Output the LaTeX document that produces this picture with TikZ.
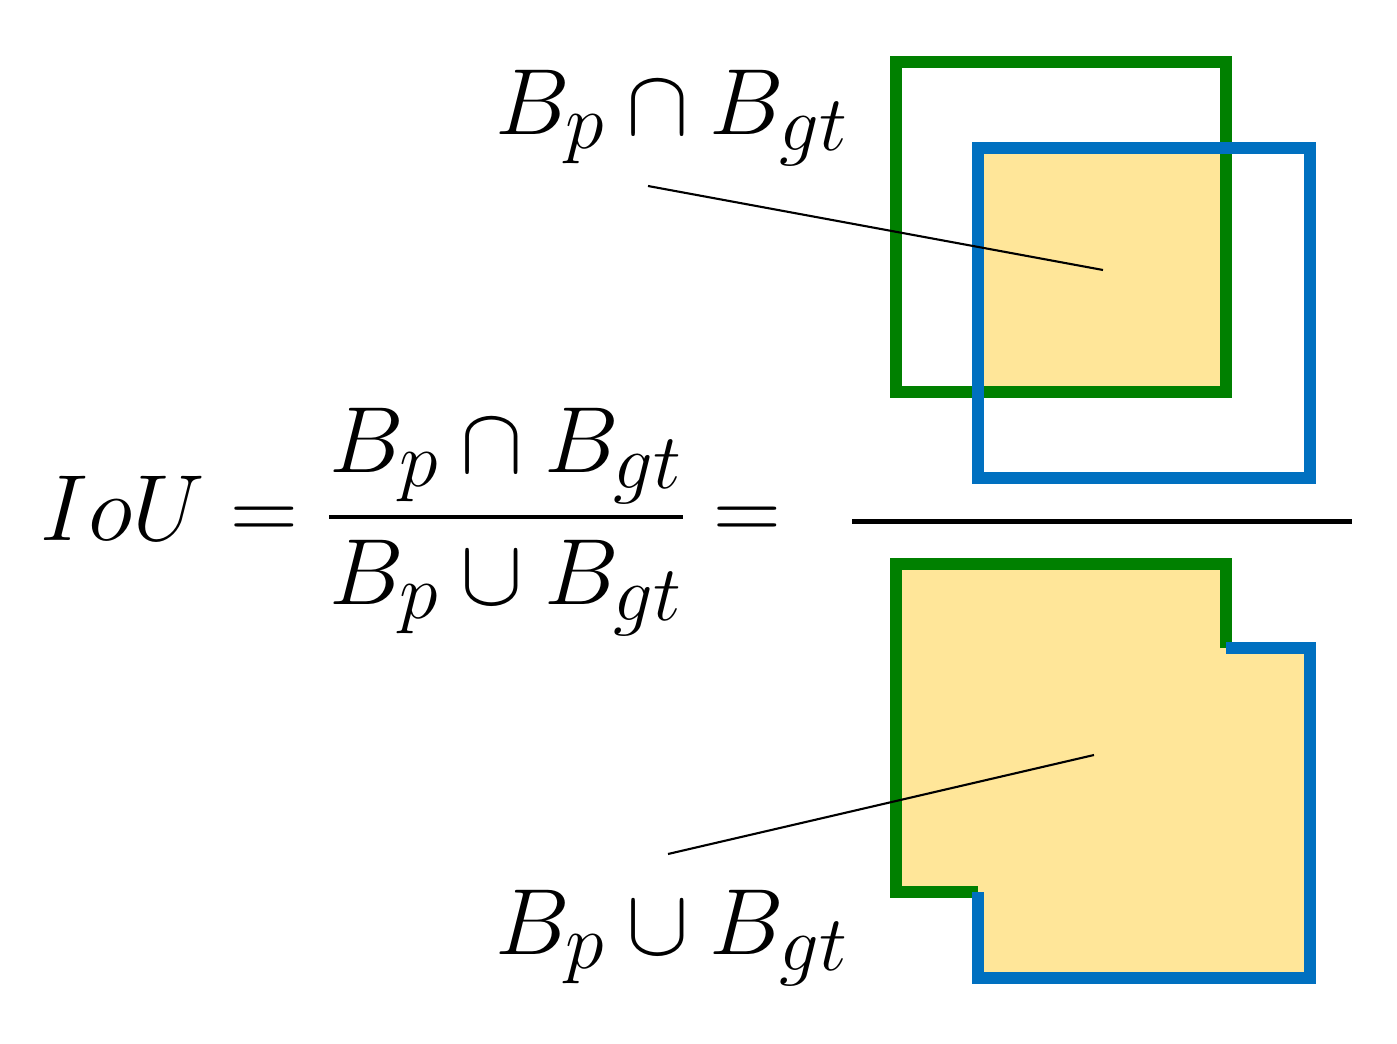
\documentclass[tikz,border=0pt]{standalone}
\usepackage{amsmath,amssymb}
\usepackage{graphicx}
\usepackage{tikz}
\usetikzlibrary{positioning}
\definecolor{boxgreen}{RGB}{0,128,0}
\definecolor{boxblue}{RGB}{0,112,192}
\definecolor{areafill}{RGB}{255,230,153}
\newcommand{\bigtext}[1]{\scalebox{2.15}{#1}}
\tikzset{
  gtbox/.style={draw=boxgreen,line width=12*0.02cm,line cap=square},
  pbox/.style={draw=boxblue,line width=12*0.02cm,line cap=square},
  lbl/.style={inner sep=0pt,font=\Huge},
  pointer/.style={draw=black,line width=1.2pt}
}
\begin{document}
\begin{tikzpicture}[x=0.02cm,y=-0.02cm]
  \useasboundingbox (0,0) rectangle (1397,1044);
  % intersection
  \fill[areafill] (978,148) rectangle (1226,392);
  \draw[gtbox] (896,62) rectangle (1226,392);
  \draw[pbox] (978,148) rectangle (1310,478);
  % union
  \fill[areafill] (896,564) -- (1226,564) -- (1226,648) -- (1310,648) -- (1310,978)
    -- (978,978) -- (978,892) -- (896,892) -- cycle;
  \draw[gtbox] (1226,648) -- (1226,564) -- (896,564) -- (896,892) -- (978,892);
  \draw[pbox] (978,892) -- (978,978) -- (1310,978) -- (1310,648) -- (1226,648);
  % fraction bar
  \coordinate (barl) at (852,521);
  \coordinate (barr) at (1352,521);
  \draw[line width=5*0.02cm] (barl) -- (barr);
  % labels
  \node[lbl] (inter) at (672,118) {\bigtext{$B_p\cap B_{gt}$}};
  \node[lbl] (union) at (672,938) {\bigtext{$B_p\cup B_{gt}$}};
  \node[lbl,anchor=west] (iou) at (40,522) {\bigtext{$IoU = \dfrac{B_p\cap B_{gt}}{B_p\cup B_{gt}} =$}};
  % pointers
  \coordinate (interend) at (1103,270);
  \coordinate (unionend) at (1094,755);
  \draw[pointer] (648,186) -- (interend);
  \draw[pointer] (668,854) -- (unionend);
\end{tikzpicture}
\end{document}
